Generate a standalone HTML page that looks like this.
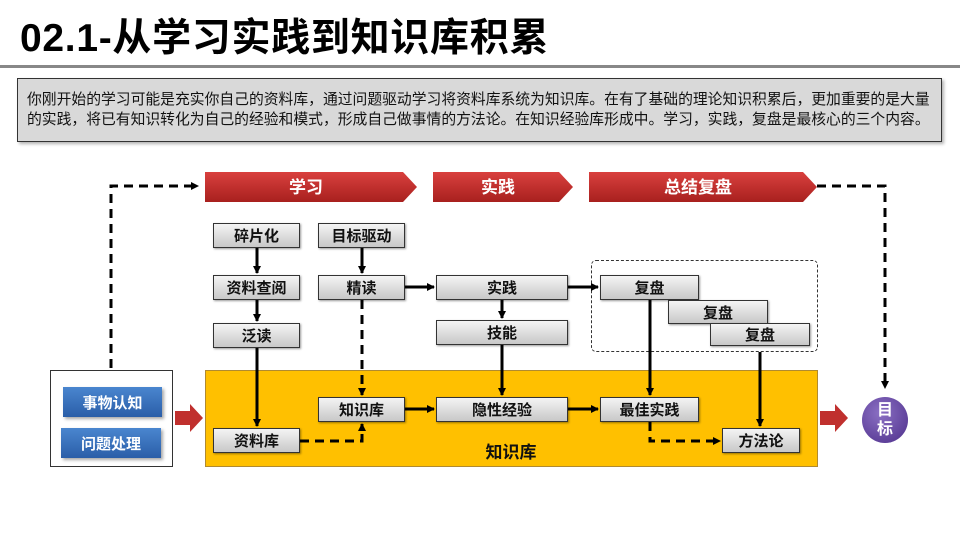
<!DOCTYPE html>
<html><head><meta charset="utf-8"><style>
body{margin:0;width:960px;height:540px;position:relative;background:#fff;font-family:"Liberation Sans","Noto Sans CJK SC",sans-serif;overflow:hidden}
.a{position:absolute;box-sizing:border-box}
.b{position:absolute;box-sizing:border-box;border:1px solid #333;background:linear-gradient(#f4f4f4,#c8c8c8);font-weight:bold;font-size:15px;display:flex;align-items:center;justify-content:center;color:#111;box-shadow:1px 1px 2px rgba(0,0,0,.4)}
.bl{position:absolute;box-sizing:border-box;background:linear-gradient(#4a86cf,#2a5ea8);color:#fff;font-weight:bold;font-size:15px;display:flex;align-items:center;justify-content:center;box-shadow:2px 2px 3px rgba(0,0,0,.35)}
</style></head><body>
<div class="a" style="left:20px;top:13px;font-size:39px;font-weight:bold;line-height:52px;letter-spacing:0.7px;white-space:nowrap">02.1-从学习实践到知识库积累</div>
<div class="a" style="left:0;top:65px;width:960px;height:3px;background:#888"></div>
<div class="a" style="left:17px;top:78px;width:925px;height:64px;background:#d9d9d9;border:1px solid #333;box-shadow:2px 2px 3px rgba(0,0,0,.3);padding:11px 0 0 9px;font-size:14.8px;line-height:20px;color:#111;white-space:nowrap">你刚开始的学习可能是充实你自己的资料库，通过问题驱动学习将资料库系统为知识库。在有了基础的理论知识积累后，更加重要的是大量<br>的实践，将已有知识转化为自己的经验和模式，形成自己做事情的方法论。在知识经验库形成中。学习，实践，复盘是最核心的三个内容。</div>

<div class="a" style="left:205px;top:370px;width:613px;height:97px;background:#ffc000;border:1px solid #b08a30"></div>
<div class="a" style="left:50px;top:370px;width:123px;height:97px;background:#fff;border:1px solid #333"></div>
<div class="a" style="left:591px;top:260px;width:227px;height:92px;border:1px dashed #333;border-radius:5px"></div>

<svg class="a" style="left:0;top:0" width="960" height="540">
<defs>
<linearGradient id="rg" x1="0" y1="0" x2="0" y2="1"><stop offset="0" stop-color="#d9403e"/><stop offset="1" stop-color="#a8201e"/></linearGradient>
<marker id="ar" markerWidth="8" markerHeight="8" refX="7" refY="4" orient="auto" markerUnits="userSpaceOnUse"><path d="M0,0 L8,4 L0,8z" fill="#000"/></marker>
<radialGradient id="pg" cx="0.4" cy="0.35" r="0.7"><stop offset="0" stop-color="#8b70c4"/><stop offset="1" stop-color="#5a3c96"/></radialGradient>
</defs>
<g fill="url(#rg)">
<polygon points="205,172 403,172 417,187 403,202 205,202"/>
<polygon points="433,172 559,172 573,187 559,202 433,202"/>
<polygon points="589,172 803,172 817,187 803,202 589,202"/>
</g>
<g fill="#fff" font-weight="bold" font-size="17" text-anchor="middle">
<text x="306" y="193">学习</text><text x="498" y="193">实践</text><text x="698" y="193">总结复盘</text>
</g>
<g stroke="#000" stroke-width="3" fill="none">
<path d="M111,368 V186 H198" stroke-dasharray="9,6" marker-end="url(#ar)"/>
<path d="M817,186 H885 V388" stroke-dasharray="9,6" marker-end="url(#ar)"/>
<path d="M257,248 V273" marker-end="url(#ar)"/>
<path d="M257,300 V321" marker-end="url(#ar)"/>
<path d="M257,348 V426" marker-end="url(#ar)"/>
<path d="M362,248 V273" marker-end="url(#ar)"/>
<path d="M362,300 V395" stroke-dasharray="9,6" marker-end="url(#ar)"/>
<path d="M300,441 H362 V424" stroke-dasharray="9,6" marker-end="url(#ar)"/>
<path d="M405,287 H434" marker-end="url(#ar)"/>
<path d="M405,409 H434" marker-end="url(#ar)"/>
<path d="M502,300 V318" marker-end="url(#ar)"/>
<path d="M502,345 V395" marker-end="url(#ar)"/>
<path d="M568,287 H598" marker-end="url(#ar)"/>
<path d="M568,409 H598" marker-end="url(#ar)"/>
<path d="M650,300 V395" marker-end="url(#ar)"/>
<path d="M760,352 V426" marker-end="url(#ar)"/>
<path d="M650,422 V441 H720" stroke-dasharray="9,6" marker-end="url(#ar)"/>
</g>
<g fill="#c0302e">
<polygon points="175,411 190,411 190,404 203,418 190,432 190,425 175,425"/>
<polygon points="820,411 835,411 835,404 848,418 835,432 835,425 820,425"/>
</g>
<circle cx="885" cy="420" r="23" fill="url(#pg)"/>
<g fill="#fff" font-weight="bold" font-size="16" text-anchor="middle"><text x="885" y="415">目</text><text x="885" y="434">标</text></g>
<text x="511" y="458" font-weight="bold" font-size="17" text-anchor="middle" fill="#111">知识库</text>
</svg>

<div class="b" style="left:213px;top:223px;width:87px;height:25px">碎片化</div>
<div class="b" style="left:318px;top:223px;width:87px;height:25px">目标驱动</div>
<div class="b" style="left:213px;top:275px;width:87px;height:25px">资料查阅</div>
<div class="b" style="left:318px;top:275px;width:87px;height:25px">精读</div>
<div class="b" style="left:213px;top:323px;width:87px;height:25px">泛读</div>
<div class="b" style="left:318px;top:397px;width:87px;height:25px">知识库</div>
<div class="b" style="left:213px;top:428px;width:87px;height:25px">资料库</div>
<div class="b" style="left:436px;top:275px;width:132px;height:25px">实践</div>
<div class="b" style="left:436px;top:320px;width:132px;height:25px">技能</div>
<div class="b" style="left:436px;top:397px;width:132px;height:25px">隐性经验</div>
<div class="b" style="left:600px;top:275px;width:99px;height:25px">复盘</div>
<div class="b" style="left:668px;top:300px;width:100px;height:24px">复盘</div>
<div class="b" style="left:710px;top:323px;width:100px;height:23px">复盘</div>
<div class="b" style="left:600px;top:397px;width:99px;height:25px">最佳实践</div>
<div class="b" style="left:722px;top:428px;width:78px;height:25px">方法论</div>
<div class="bl" style="left:63px;top:387px;width:99px;height:30px">事物认知</div>
<div class="bl" style="left:61px;top:428px;width:100px;height:30px">问题处理</div>
</body></html>
